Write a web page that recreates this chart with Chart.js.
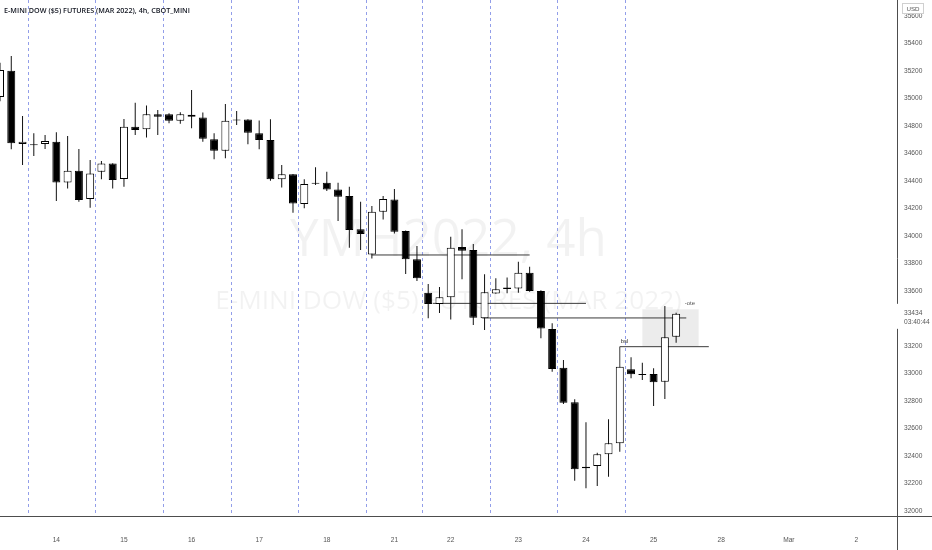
<!DOCTYPE html>
<html><head><meta charset="utf-8">
<script src="https://cdn.jsdelivr.net/npm/chart.js@4"></script>
<style>html,body{margin:0;padding:0;background:#fff;overflow:hidden}#wrap{width:932px;height:550px;position:relative}</style>
</head><body><div id="wrap"><canvas id="c" width="932" height="550"></canvas></div>
<script>
// ---- data (4h candles, index 0 = first visible bar) ----
const opens  = [35011,35202,34669,34660,34669,34686,34389,34475,34269,34468,34528,34414,34795,34776,34885,34885,34838,34882,34862,34703,34620,34840,34848,34747,34698,34412,34449,34233,34380,34387,34339,34291,34049,33866,34177,34266,34036,33831,33588,33505,33554,33920,33898,33401,33582,33614,33619,33733,33600,33324,33042,32790,32310,32327,32412,32492,33031,32996,32996,32940,33268];
const highs  = [35260,35309,34873,34747,34734,34754,34727,34633,34553,34545,34530,34851,34969,34949,34916,34892,34900,35062,34898,34747,34960,34910,34850,34840,34849,34516,34451,34412,34500,34468,34388,34359,34250,34218,34291,34342,34040,33927,33651,33629,33995,34049,33942,33721,33692,33699,33813,33776,33605,33365,33098,32812,32645,32424,32667,33050,33118,33079,33038,33491,33442];
const lows   = [34980,34631,34516,34582,34632,34254,34346,34249,34206,34412,34346,34359,34734,34716,34734,34820,34816,34783,34686,34558,34565,34807,34667,34631,34402,34353,34170,34201,34371,34327,34110,33914,33898,33837,34120,34019,33724,33673,33401,33440,33392,33685,33353,33316,33580,33583,33588,33595,33256,33013,32778,32220,32165,32182,32249,32431,32965,32953,32764,32815,33224];
const closes = [35207,34674,34686,34665,34691,34389,34475,34262,34455,34528,34407,34795,34771,34885,34867,34838,34885,34867,34707,34620,34838,34848,34751,34698,34412,34449,34237,34378,34387,34339,34286,34044,34015,34177,34269,34031,33831,33692,33505,33554,33915,33893,33406,33590,33612,33626,33733,33600,33327,33033,32788,32303,32322,32412,32492,33049,32994,32989,32936,33263,33434];

const dayTickPos    = [5, 11, 17, 23, 29, 35, 40, 46, 52, 58, 64, 70, 76];
const dayLabels     = ['14','15','16','17','18','21','22','23','24','25','28','Mar','2'];
const sessionBreaks = [2.5, 8.5, 14.5, 20.5, 26.5, 32.5, 37.5, 43.5, 49.5, 55.5];
const priceTicks    = [32000,32200,32400,32600,32800,33000,33200,33600,33800,34000,34200,34400,34600,34800,35000,35200,35400,35600];

// horizontal levels drawn on the chart
const levelFrom  = [33, 38.4, 42.8];
const levelTo    = [47, 52, 60.9];
const levelPrice = [33862, 33510, 33404];
// bsl marker: vertical from candle high then horizontal
const bslX     = [55, 55, 62.9];
const bslPrice = [33050, 33195, 33195];
// ote zone
const oteX     = [57, 62];
const otePrice = [33195, 33467];
const lastPrice = 33434;
const lastTime  = '03:40:44';

const xMin = 0, xMax = 79.6, yMin = 31963.6, yMax = 35716.4;
const FONT = "'Liberation Sans', Arial, sans-serif";

const idx = opens.map((_, i) => i);
const bodyData = idx.map(i => ({x: i, y: [opens[i], closes[i]]}));
const wickData = idx.map(i => ({x: i, y: [lows[i], highs[i]]}));

const lineStyle = { type: 'line', order: 3, borderColor: '#3a3a3a', borderWidth: 1,
  pointRadius: 0, pointHoverRadius: 0, pointHitRadius: 0, pointBorderWidth: 0, fill: false, tension: 0 };
const lineSets = levelPrice.map((p, k) => Object.assign({}, lineStyle, {
  data: [{x: levelFrom[k], y: p}, {x: levelTo[k], y: p}]
}));
lineSets.push(Object.assign({}, lineStyle, { data: bslX.map((x, k) => ({x, y: bslPrice[k]})) }));

function fitFont(c, text, w, weight, fam) {
  c.font = weight + ' 20px ' + fam;
  const m = c.measureText(text).width;
  const s = 20 * w / m;
  c.font = weight + ' ' + s + 'px ' + fam;
}

const deco = {
  id: 'deco',
  beforeDraw(chart) {
    const c = chart.ctx, ca = chart.chartArea;
    c.save();
    c.fillStyle = '#fff'; c.fillRect(0, 0, chart.width, chart.height);
    const cx = (ca.left + ca.right) / 2;
    c.fillStyle = 'rgba(0,0,0,0.05)';
    c.textAlign = 'center'; c.textBaseline = 'middle';
    fitFont(c, 'YMH2022, 4h', 317, '400', "'Open Sans', sans-serif");
    c.fillText('YMH2022, 4h', cx, 241);
    fitFont(c, 'E-MINI DOW ($5) FUTURES (MAR 2022)', 467, '400', "'Open Sans', sans-serif");
    c.fillText('E-MINI DOW ($5) FUTURES (MAR 2022)', cx, 302);
    c.restore();
  },
  beforeDatasetsDraw(chart) {
    const c = chart.ctx, x = chart.scales.x, y = chart.scales.y;
    const l = x.getPixelForValue(oteX[0]), r = x.getPixelForValue(oteX[1]);
    const b = y.getPixelForValue(otePrice[0]), t = y.getPixelForValue(otePrice[1]);
    c.save(); c.fillStyle = 'rgba(0,0,0,0.075)'; c.fillRect(l, t, r - l, b - t); c.restore();
  },
  afterDraw(chart) {
    const c = chart.ctx, ca = chart.chartArea, x = chart.scales.x, y = chart.scales.y;
    c.save();
    // axis line extensions
    c.strokeStyle = '#4d4d4d'; c.lineWidth = 1;
    c.beginPath();
    c.moveTo(ca.right, Math.round(ca.bottom) + 0.5); c.lineTo(chart.width, Math.round(ca.bottom) + 0.5);
    c.moveTo(Math.round(ca.right) + 0.5, ca.bottom); c.lineTo(Math.round(ca.right) + 0.5, chart.height);
    c.stroke();
    // title
    c.fillStyle = '#131722'; c.textAlign = 'left'; c.textBaseline = 'middle';
    fitFont(c, 'E-MINI DOW ($5) FUTURES (MAR 2022), 4h, CBOT_MINI', 186, '600', "'Open Sans', sans-serif");
    c.fillText('E-MINI DOW ($5) FUTURES (MAR 2022), 4h, CBOT_MINI', 4, 11);
    // bsl / ote labels
    c.fillStyle = '#333'; c.font = '6px ' + FONT;
    c.fillText('bsl', x.getPixelForValue(bslX[1]) + 1, y.getPixelForValue(bslPrice[1]) - 5);
    c.fillStyle = '#555';
    c.fillText('-ote', x.getPixelForValue(oteX[1]) - 14, y.getPixelForValue(otePrice[1]) - 6);
    // USD box
    c.fillStyle = '#fff'; c.fillRect(902, 3, 22, 11);
    c.strokeStyle = '#d0d0d0'; c.strokeRect(902.5, 3.5, 21, 10);
    c.fillStyle = '#555'; c.textAlign = 'center'; c.font = '6.2px ' + FONT;
    c.fillText('USD', 913, 9);
    // last price label
    const py = y.getPixelForValue(lastPrice);
    c.fillStyle = '#fff'; c.fillRect(Math.round(ca.right) - 2, py - 10, 40, 25);
    c.fillStyle = '#555'; c.textAlign = 'left'; c.font = '6.6px ' + FONT;
    c.fillText(String(lastPrice), 904, py - 1);
    c.fillText(lastTime, 904, py + 8);
    c.restore();
  }
};

new Chart(document.getElementById('c'), {
  type: 'bar',
  data: {
    datasets: [
      { type: 'bar', label: 'body', data: bodyData, order: 0, grouped: false,
        maxBarThickness: 8, minBarLength: 1, borderWidth: 1, borderColor: '#000', borderSkipped: false,
        backgroundColor: ctx => closes[ctx.dataIndex] >= opens[ctx.dataIndex] ? '#fff' : '#000' },
      { type: 'bar', label: 'wick', data: wickData, order: 1, grouped: false,
        maxBarThickness: 1, borderWidth: 0, backgroundColor: '#111' },
      ...lineSets
    ]
  },
  options: {
    responsive: false, animation: false, maintainAspectRatio: false,
    layout: { padding: 0, autoPadding: false },
    plugins: { legend: { display: false }, tooltip: { enabled: false }, title: { display: false } },
    scales: {
      x: { type: 'linear', position: 'bottom', min: xMin, max: xMax, offset: false,
        grid: { display: false, drawTicks: false, offset: false },
        border: { display: true, color: '#4d4d4d', width: 1 },
        ticks: { autoSkip: false, maxRotation: 0, padding: 20, color: '#555',
          font: { size: 6.6, family: FONT }, callback: (v, i) => dayLabels[i] },
        afterBuildTicks: s => { s.ticks = dayTickPos.map(v => ({value: v})); },
        afterFit: s => { s.height = 34; s.paddingLeft = 0; s.paddingRight = 0; } },
      xg: { type: 'linear', position: 'bottom', min: xMin, max: xMax, offset: false,
        grid: { display: true, drawTicks: false, offset: false, color: 'rgba(110,125,225,0.75)', lineWidth: 1 },
        border: { display: false, dash: [3, 3] },
        ticks: { display: false },
        afterBuildTicks: s => { s.ticks = sessionBreaks.map(v => ({value: v})); },
        afterFit: s => { s.height = 0; s.paddingLeft = 0; s.paddingRight = 0; } },
      y: { type: 'linear', position: 'right', min: yMin, max: yMax,
        grid: { display: false, drawTicks: false },
        border: { display: true, color: '#4d4d4d', width: 1 },
        ticks: { padding: 7, color: '#555', font: { size: 6.6, family: FONT }, callback: v => String(v) },
        afterBuildTicks: s => { s.ticks = priceTicks.map(v => ({value: v})); },
        afterFit: s => { s.width = 35; s.paddingTop = 0; s.paddingBottom = 0; } }
    }
  },
  plugins: [deco]
});
</script></body></html>
